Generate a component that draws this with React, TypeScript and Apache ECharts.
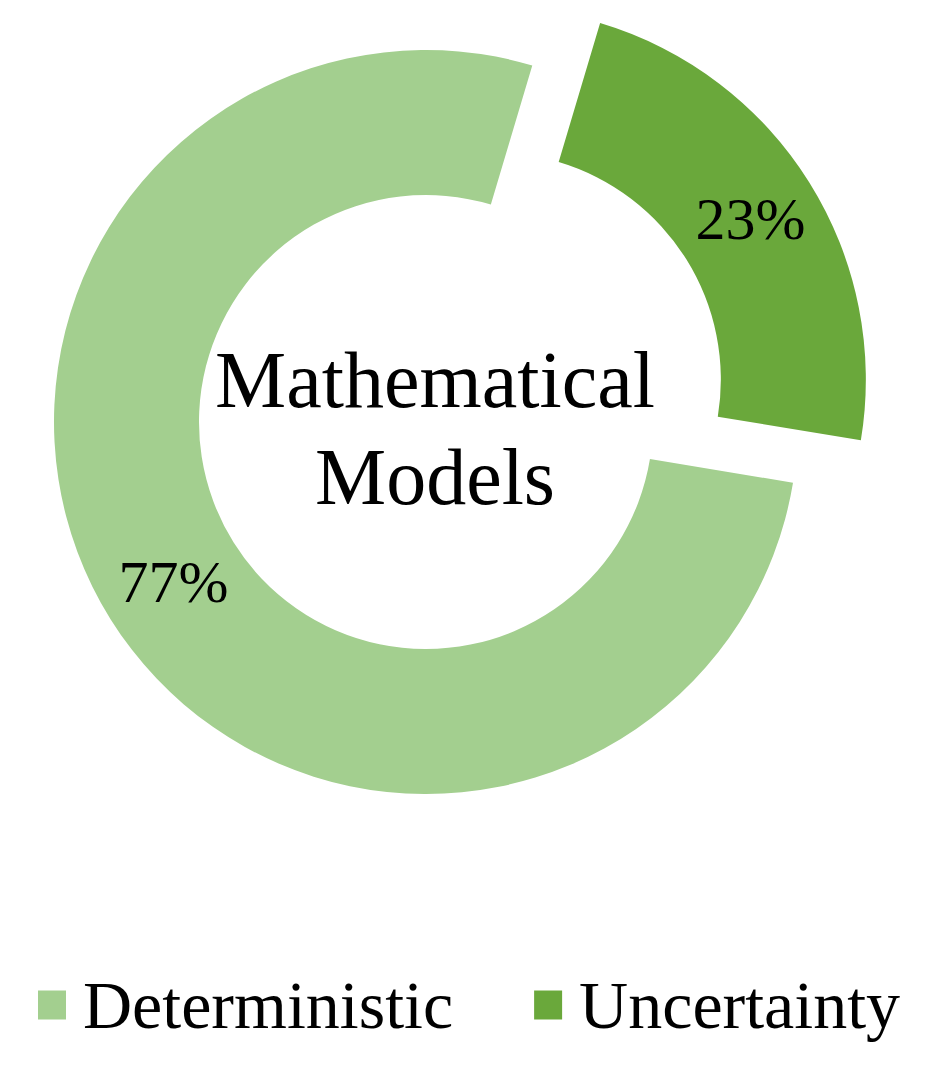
import React, { useEffect, useRef } from "react";
import * as echarts from "echarts";

const categories = ["Uncertainty", "Deterministic"];
const values = [23, 77];
const colors = ["#6AA83B", "#A3CF8F"];
const labelNudges = [[-6, 4], [4, 0]];
const centerTitle = "Mathematical\nModels";
const legendOrder = ["Deterministic", "Uncertainty"];

const FONT = '"Liberation Serif", "Times New Roman", serif';

export default function App() {
  const ref = useRef<HTMLDivElement>(null);
  useEffect(() => {
    if (!ref.current) return;
    const chart = echarts.init(ref.current, null, { renderer: "svg" });
    chart.setOption({
      animation: false,
      backgroundColor: "#ffffff",
      legend: {
        data: legendOrder,
        left: 33,
        top: 964,
        orient: "horizontal",
        itemWidth: 28,
        itemHeight: 29,
        itemGap: 81,
        icon: "rect",
        selectedMode: false,
        textStyle: {
          fontFamily: FONT,
          fontSize: 68,
          color: "#000000",
          lineHeight: 72,
          padding: [0, 0, 0, 12],
        },
      },
      graphic: [
        {
          type: "text",
          x: 435,
          y: 428,
          silent: true,
          style: {
            text: centerTitle,
            fontFamily: FONT,
            fontSize: 80,
            lineHeight: 97,
            fill: "#000000",
            align: "center",
            verticalAlign: "middle",
          },
        },
      ],
      series: [
        {
          type: "pie",
          center: [426, 422],
          radius: [227, 372],
          startAngle: 73.4,
          clockwise: true,
          selectedMode: "single",
          selectedOffset: 80,
          avoidLabelOverlap: false,
          emphasis: { disabled: true },
          label: {
            show: true,
            position: "inside",
            formatter: "{c}%",
            fontFamily: FONT,
            fontSize: 60,
            color: "#000000",
          },
          labelLine: { show: false },
          data: categories.map((name, i) => ({
            name,
            value: values[i],
            selected: name === "Uncertainty",
            itemStyle: { color: colors[i] },
            label: { offset: labelNudges[i] },
          })),
        },
      ],
    });
    return () => chart.dispose();
  }, []);
  return (
    <div
      ref={ref}
      style={{ position: "fixed", left: 0, top: 0, width: 935, height: 1077 }}
    />
  );
}
